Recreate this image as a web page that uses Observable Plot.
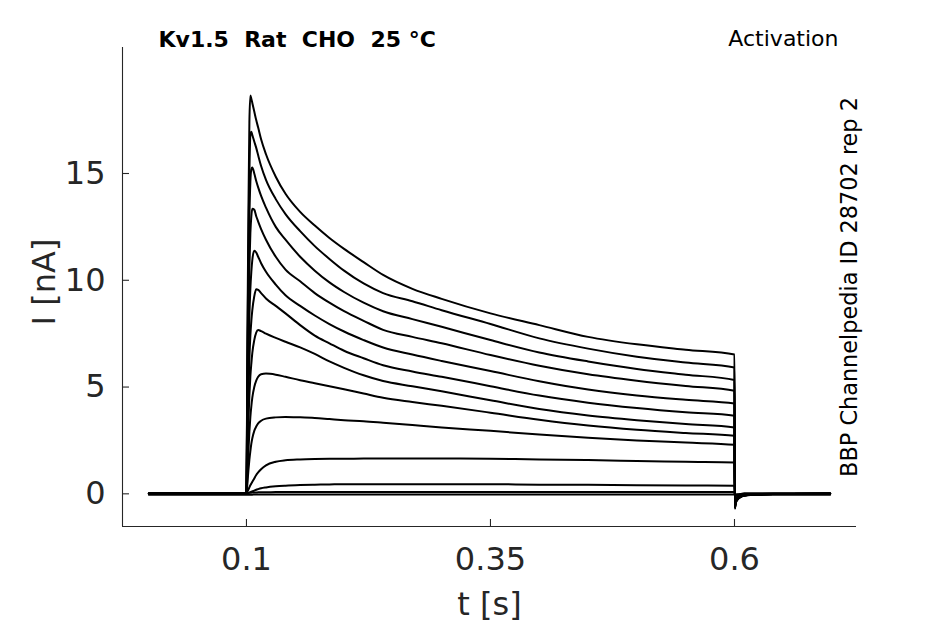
<!DOCTYPE html>
<html>
<head>
<meta charset="utf-8">
<script src="https://cdn.jsdelivr.net/npm/d3@7"></script>
<script src="https://cdn.jsdelivr.net/npm/@observablehq/plot@0.6"></script>
<style>
  html, body { margin: 0; padding: 0; background: #fff; }
  #chart { width: 945px; height: 624px; }
</style>
</head>
<body>
<div id="chart"></div>
<script>
// Time points (s)
const time = [0, 0.1, 0.101, 0.102, 0.103, 0.104, 0.105, 0.106, 0.108, 0.11, 0.112, 0.115, 0.12,
  0.13, 0.14, 0.155, 0.17, 0.185, 0.2, 0.22, 0.24, 0.27, 0.3, 0.35, 0.4, 0.45, 0.5, 0.55, 0.6,
  0.6004, 0.6012, 0.603, 0.606, 0.61, 0.62, 0.64, 0.698];

// Current sweeps (nA), one per voltage step
const sweep1 = [0, 0, 7.5, 13.2, 17.4, 18.65, 18.5, 18.3, 17.9, 17.5, 17.15, 16.6, 15.9, 14.85, 14.05, 13.2, 12.56, 11.98, 11.47, 10.85, 10.25, 9.6, 9.13, 8.45, 7.9, 7.35, 7.0, 6.75, 6.52, -0.7, -0.45, -0.28, -0.16, -0.09, -0.04, -0.01, 0];
const sweep2 = [0, 0, 6.5, 11.5, 15.0, 16.8, 16.95, 16.8, 16.5, 16.2, 15.85, 15.35, 14.7, 13.8, 13.1, 12.3, 11.6, 11.0, 10.45, 9.85, 9.4, 9.02, 8.6, 7.95, 7.28, 6.8, 6.42, 6.15, 5.92, -0.68, -0.43, -0.27, -0.15, -0.08, -0.04, -0.01, 0];
const sweep3 = [0, 0, 5.5, 9.8, 12.9, 14.6, 15.2, 15.28, 15.0, 14.65, 14.35, 13.95, 13.4, 12.5, 11.9, 11.1, 10.45, 9.9, 9.45, 8.95, 8.55, 8.18, 7.82, 7.2, 6.62, 6.2, 5.85, 5.58, 5.33, -0.66, -0.42, -0.26, -0.15, -0.08, -0.04, -0.01, 0];
const sweep4 = [0, 0, 4.5, 8.0, 10.6, 12.2, 13.0, 13.35, 13.3, 13.0, 12.75, 12.4, 11.9, 11.1, 10.5, 9.95, 9.4, 8.95, 8.55, 8.1, 7.68, 7.35, 7.05, 6.5, 6.0, 5.6, 5.3, 5.05, 4.83, -0.64, -0.41, -0.25, -0.14, -0.08, -0.03, -0.01, 0];
const sweep5 = [0, 0, 3.5, 6.2, 8.3, 9.6, 10.4, 10.95, 11.38, 11.3, 11.1, 10.8, 10.4, 9.8, 9.3, 8.8, 8.35, 7.95, 7.6, 7.2, 6.85, 6.52, 6.22, 5.75, 5.27, 4.88, 4.6, 4.4, 4.23, -0.62, -0.4, -0.24, -0.14, -0.07, -0.03, -0.01, 0];
const sweep6 = [0, 0, 2.5, 4.6, 6.3, 7.4, 8.1, 8.6, 9.25, 9.58, 9.55, 9.4, 9.15, 8.8, 8.45, 7.9, 7.41, 7.05, 6.7, 6.35, 6.02, 5.73, 5.48, 5.04, 4.6, 4.27, 4.02, 3.82, 3.66, -0.6, -0.38, -0.23, -0.13, -0.07, -0.03, -0.01, 0];
const sweep7 = [0, 0, 1.8, 3.4, 4.6, 5.5, 6.1, 6.6, 7.2, 7.55, 7.67, 7.62, 7.5, 7.3, 7.12, 6.86, 6.55, 6.2, 5.9, 5.55, 5.28, 5.04, 4.8, 4.38, 3.97, 3.67, 3.45, 3.27, 3.11, -0.58, -0.36, -0.22, -0.12, -0.06, -0.03, -0.01, 0];
const sweep8 = [0, 0, 1.0, 2.0, 2.9, 3.6, 4.1, 4.5, 5.0, 5.3, 5.48, 5.6, 5.63, 5.58, 5.48, 5.32, 5.18, 5.04, 4.9, 4.7, 4.5, 4.3, 4.12, 3.8, 3.47, 3.2, 3.0, 2.85, 2.72, -0.55, -0.34, -0.2, -0.11, -0.06, -0.03, -0.01, 0];
const sweep9 = [0, 0, 0.5, 1.1, 1.6, 2.0, 2.35, 2.6, 2.95, 3.15, 3.3, 3.42, 3.52, 3.58, 3.6, 3.58, 3.55, 3.5, 3.45, 3.4, 3.33, 3.22, 3.11, 2.95, 2.78, 2.63, 2.5, 2.4, 2.3, -0.5, -0.3, -0.18, -0.1, -0.05, -0.02, -0.01, 0];
const sweep10 = [0, 0, 0.1, 0.2, 0.3, 0.4, 0.48, 0.56, 0.72, 0.88, 1.0, 1.15, 1.33, 1.5, 1.57, 1.61, 1.63, 1.64, 1.64, 1.65, 1.65, 1.65, 1.65, 1.64, 1.61, 1.58, 1.54, 1.5, 1.47, -0.35, -0.22, -0.13, -0.07, -0.04, -0.02, 0, 0];
const sweep11 = [0, 0, 0.02, 0.04, 0.06, 0.08, 0.1, 0.12, 0.15, 0.19, 0.22, 0.26, 0.3, 0.35, 0.38, 0.41, 0.43, 0.44, 0.45, 0.45, 0.45, 0.45, 0.45, 0.45, 0.43, 0.42, 0.4, 0.39, 0.38, -0.15, -0.09, -0.05, -0.03, -0.02, -0.01, 0, 0];
const sweep12 = [0.04, 0.04, 0.04, 0.04, 0.05, 0.05, 0.05, 0.06, 0.06, 0.06, 0.07, 0.07, 0.07, 0.08, 0.08, 0.08, 0.08, 0.08, 0.08, 0.08, 0.08, 0.08, 0.08, 0.09, 0.08, 0.08, 0.08, 0.08, 0.08, -0.05, -0.03, -0.02, -0.01, 0.03, 0.03, 0.03, 0.03];
const sweep13 = [-0.04, -0.04, -0.04, -0.04, -0.04, -0.04, -0.04, -0.04, -0.03, -0.03, -0.03, -0.03, -0.03, -0.03, -0.03, -0.03, -0.03, -0.03, -0.03, -0.03, -0.03, -0.03, -0.03, -0.03, -0.03, -0.03, -0.03, -0.03, -0.03, -0.06, -0.05, -0.04, -0.04, -0.04, -0.04, -0.04, -0.04];

// Axis ticks and extents
const xTicks = [0.1, 0.35, 0.6];
const yTicks = [0, 5, 10, 15];
const xDomain = [-0.027, 0.725];
const yDomain = [-1.53, 20.9];

const sweeps = [sweep1, sweep2, sweep3, sweep4, sweep5, sweep6, sweep7, sweep8, sweep9, sweep10, sweep11, sweep12, sweep13];
const rows = sweeps.flatMap((s, k) => s.map((v, i) => ({sweep: k, t: time[i], I: v})));

const W = 945, H = 624, ML = 122, MR = 89, MT = 47, MB = 98;
const frameW = W - ML - MR, frameH = H - MT - MB;
const axisColor = "#262626";

const chart = Plot.plot({
  width: W, height: H,
  marginLeft: ML, marginRight: MR, marginTop: MT, marginBottom: MB,
  style: {fontFamily: "'DejaVu Sans', sans-serif", background: "#fff", color: axisColor},
  x: {domain: xDomain},
  y: {domain: yDomain},
  marks: [
    Plot.line(rows, {x: "t", y: "I", z: "sweep", stroke: "#000", strokeWidth: 2, curve: "monotone-x"}),
    Plot.ruleX([xDomain[0]], {stroke: axisColor, strokeWidth: 1.1}),
    Plot.ruleY([yDomain[0]], {stroke: axisColor, strokeWidth: 1.1}),
    Plot.ruleX(xTicks, {stroke: axisColor, strokeWidth: 1.1, insetTop: frameH - 7}),
    Plot.ruleY(yTicks, {stroke: axisColor, strokeWidth: 1.1, insetRight: frameW - 7}),
    Plot.axisX({ticks: xTicks, tickSize: 0, tickPadding: 21, fontSize: 32, label: null, tickFormat: d => String(d)}),
    Plot.axisY({ticks: yTicks, tickSize: 0, tickPadding: 17, fontSize: 32, label: null, tickFormat: d => String(d)}),
    Plot.text(["I [nA]"], {frameAnchor: "left", textAnchor: "middle", lineAnchor: "middle", rotate: -90, dx: -78, dy: -5, fontSize: 32, fill: axisColor}),
    Plot.text(["t [s]"], {frameAnchor: "bottom", textAnchor: "middle", lineAnchor: "middle", dy: 78, fontSize: 32, fill: axisColor}),
    Plot.text(["Kv1.5\u00a0\u00a0Rat\u00a0\u00a0CHO\u00a0\u00a025\u00a0°C"], {frameAnchor: "top-left", textAnchor: "start", lineAnchor: "middle", dx: 36, dy: -8, fontSize: 22, fontWeight: "bold", fill: "#000"}),
    Plot.text(["Activation"], {frameAnchor: "top-right", textAnchor: "end", lineAnchor: "middle", dx: -18, dy: -9, fontSize: 22, fill: "#000"}),
    Plot.text(["BBP Channelpedia ID 28702 rep 2"], {frameAnchor: "right", textAnchor: "middle", lineAnchor: "middle", rotate: -90, dx: -7, fontSize: 22.4, fill: "#000"})
  ]
});
document.getElementById("chart").appendChild(chart);
</script>
</body>
</html>
